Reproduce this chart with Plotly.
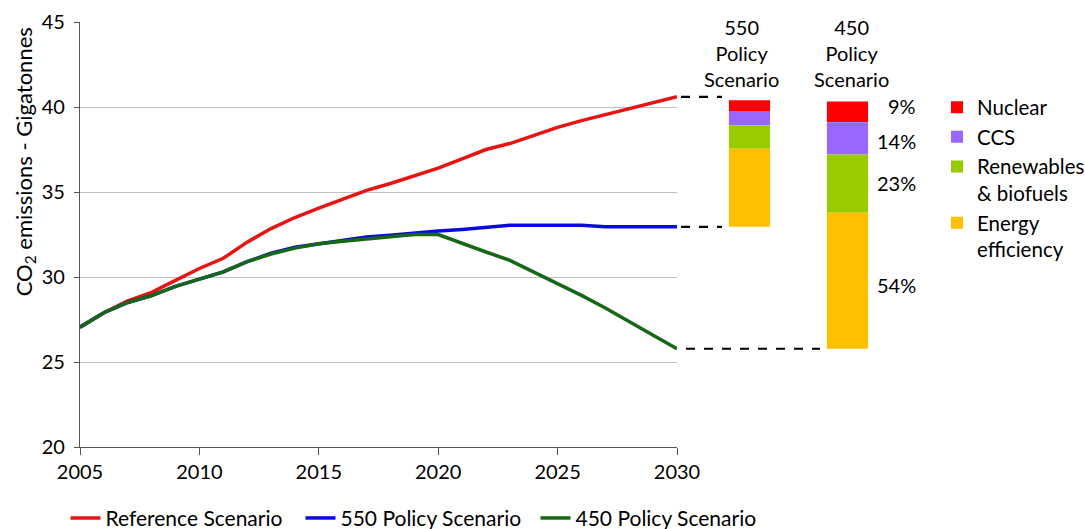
import plotly.graph_objects as go

years = list(range(2005, 2031))
reference = [27.05, 27.9, 28.6, 29.1, 29.8, 30.5, 31.1, 32.05, 32.85, 33.5, 34.05, 34.6, 35.1,
             35.5, 35.95, 36.4, 36.95, 37.5, 37.85, 38.35, 38.8, 39.2, 39.55, 39.9, 40.25, 40.6]
policy550 = [27.05, 27.9, 28.5, 28.9, 29.45, 29.9, 30.3, 30.9, 31.4, 31.75, 31.95, 32.1, 32.35,
             32.45, 32.6, 32.7, 32.8, 32.95, 33.05, 33.05, 33.05, 33.05, 32.95, 32.95, 32.95, 32.95]
policy450 = [27.05, 27.9, 28.5, 28.9, 29.45, 29.9, 30.3, 30.9, 31.35, 31.7, 31.95, 32.1, 32.25,
             32.35, 32.5, 32.5, 31.96, 31.47, 30.98, 30.3, 29.6, 28.92, 28.18, 27.35, 26.57, 25.78]

bar_names = ["Nuclear", "CCS", "Renewables<br>& biofuels", "Energy<br>efficiency"]
bar_colors = ["#ff0000", "#9966ff", "#99cc00", "#ffc000"]
nuclear = [0.64, 1.22]
ccs = [0.83, 1.90]
renewables = [1.39, 3.43]
efficiency = [4.59, 8.00]
pct_labels_450 = ["9%", "14%", "23%", "54%"]
bar_headers = ["550<br>Policy<br>Scenario", "450<br>Policy<br>Scenario"]

FONT = "Lato, 'Open Sans', sans-serif"
W, H = 1085, 529
ML, MT = 80, 21.7
PW = W - ML
PH = 425
MB = H - MT - PH
x_end_px = 677
dom1 = (x_end_px - ML) / PW

fig = go.Figure()

line_styles = [("Reference Scenario", reference, "#e81414"),
               ("550 Policy Scenario", policy550, "#0a0ae0"),
               ("450 Policy Scenario", policy450, "#166816")]
for name, vals, col in line_styles:
    fig.add_trace(go.Scatter(x=years, y=vals, mode="lines", name=name,
                             line=dict(color=col, width=3.5), legend="legend",
                             xaxis="x", yaxis="y"))

# bars (drawn from bottom up: efficiency, renewables, ccs, nuclear)
bottoms = [policy550[-1], policy450[-1]]
segments = [efficiency, renewables, ccs, nuclear]
seg_names = bar_names[::-1]
seg_cols = bar_colors[::-1]
base = list(bottoms)
mids450 = []
bar_traces = []
for seg, nm, col in zip(segments, seg_names, seg_cols):
    bar_traces.append(go.Bar(x=[0, 1], y=seg, base=list(base), name=nm,
                             marker=dict(color=col, line=dict(width=0)), width=0.42,
                             legend="legend2", xaxis="x2", yaxis="y2"))
    mids450.append(base[1] + seg[1] / 2)
    base = [b + s for b, s in zip(base, seg)]
for t in bar_traces[::-1]:
    fig.add_trace(t)
mids450 = mids450[::-1]

# x2 range so bars land at px 749.5 and 847.5 (98 px per unit)
unit = 98.0
c0 = 749.5
x2_left = (x_end_px - c0) / unit
x2_right = (W - c0) / unit

def px2(p):
    return (p - c0) / unit

# dashed connector lines
dash_specs = [(reference[-1], px2(681), px2(722)),
              (policy550[-1], px2(681), px2(722)),
              (policy450[-1], px2(686), px2(820))]
for yv, xa, xb in dash_specs:
    fig.add_shape(type="line", xref="x2", yref="y2", x0=xa, x1=xb, y0=yv, y1=yv,
                  line=dict(color="black", width=2.2, dash="dash"))

# percent labels
pct_shifts = [6, -3, 1, -4]
for lab, ym, sh in zip(pct_labels_450, mids450, pct_shifts):
    fig.add_annotation(x=px2(918), y=ym, xref="x2", yref="y2", text=lab, showarrow=False,
                       xanchor="right", yanchor="middle", yshift=sh,
                       font=dict(size=20, color="black", family=FONT))

# headers
for hx, txt in zip([px2(741), px2(851)], bar_headers):
    fig.add_annotation(x=hx, y=1 + (MT - 13) / PH, xref="x2", yref="paper", text=txt,
                       showarrow=False, xanchor="center", yanchor="top",
                       font=dict(size=20, color="black", family=FONT))

# y-axis title (positioned as in the reference, above axis centre)
fig.add_annotation(x=-(ML - 25) / PW, y=1 - (162 - MT) / PH, xref="paper", yref="paper",
                   text="CO<sub>2</sub> emissions - Gigatonnes", textangle=-90,
                   showarrow=False, xanchor="center", yanchor="middle",
                   font=dict(size=22, color="black", family=FONT))

fig.update_layout(
    width=W, height=H,
    margin=dict(l=ML, r=0, t=MT, b=MB, autoexpand=False),
    paper_bgcolor="white", plot_bgcolor="white",
    font=dict(family=FONT, size=20, color="black"),
    barmode="overlay",
    xaxis=dict(domain=[0, dom1], range=[2005, 2030], tickvals=[2005, 2010, 2015, 2020, 2025, 2030],
               showgrid=False, zeroline=False, showline=True, linecolor="#555555", linewidth=1.2,
               ticks="outside", ticklen=7, tickcolor="#555555", tickfont=dict(size=20),
               anchor="y"),
    yaxis=dict(domain=[0, 1], range=[20, 45], dtick=5, showgrid=True, gridcolor="#c0c0c0",
               gridwidth=1.2, zeroline=False, showline=True, linecolor="#555555", linewidth=1.2,
               ticks="outside", ticklen=5, tickcolor="#555555", tickfont=dict(size=20),
               ticklabelstandoff=5, anchor="x"),
    xaxis2=dict(domain=[dom1, 1], range=[x2_left, x2_right], visible=False, anchor="y2"),
    yaxis2=dict(domain=[0, 1], range=[20, 45], visible=False, anchor="x2"),
    legend=dict(orientation="h", x=(418 - ML) / PW, xanchor="center",
                y=-(518 - MT - PH) / PH, yanchor="middle", font=dict(size=21),
                entrywidth=190, entrywidthmode="pixels",
                bgcolor="rgba(0,0,0,0)"),
    legend2=dict(orientation="v", x=(937 - ML) / PW, xanchor="left",
                 y=1 - (87 - MT) / PH, yanchor="top", font=dict(size=20.5),
                 valign="top", traceorder="normal", bgcolor="rgba(0,0,0,0)",
                 itemwidth=30),
    showlegend=True,
)

fig.write_html("out.html")
